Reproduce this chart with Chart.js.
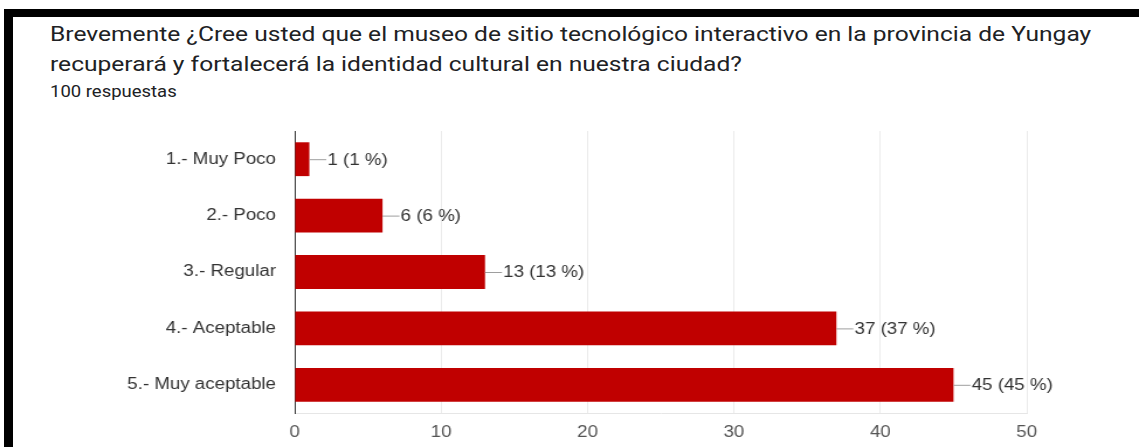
<!DOCTYPE html>
<html>
<head>
<meta charset="utf-8">
<script src="https://cdn.jsdelivr.net/npm/chart.js@4"></script>
<style>
  html, body { margin: 0; padding: 0; background: #fff; }
  body { width: 1139px; height: 447px; position: relative; overflow: hidden; }
  #topbar { position: absolute; left: 4px; top: 9px; width: 1135px; height: 8px; background: #000; }
  #leftbar { position: absolute; left: 4px; top: 9px; width: 9px; height: 438px; background: #000; }
  .txt { position: absolute; left: 50px; font-family: Roboto, Arial, sans-serif; color: #202124; white-space: nowrap; transform-origin: 0 0; }
  #title { top: 19px; font-size: 21px; line-height: 30px; transform: scaleX(1.17); }
  #sub { top: 82px; font-size: 16.5px; line-height: 20px; transform: scaleX(1.12); }
  #wrap { position: absolute; left: 0; top: 0; width: 974px; height: 447px; transform: scaleX(1.1694); transform-origin: 0 0; }
</style>
</head>
<body>
<div id="topbar"></div>
<div id="leftbar"></div>
<div id="title" class="txt">Brevemente ¿Cree usted que el museo de sitio tecnológico interactivo en la provincia de Yungay<br>recuperará y fortalecerá la identidad cultural en nuestra ciudad?</div>
<div id="sub" class="txt">100 respuestas</div>
<div id="wrap"><canvas id="chart" width="974" height="447"></canvas></div>
<script>
// data
const categories = ['1.- Muy Poco', '2.- Poco', '3.- Regular', '4.- Aceptable', '5.- Muy aceptable'];
const counts = [1, 6, 13, 37, 45];
const percents = [1, 6, 13, 37, 45];
const xTicks = [0, 10, 20, 30, 40, 50];

// the reference is stretched sideways, so the canvas is drawn narrow and widened by the wrapper
const FONT = '"Liberation Sans", Arial, sans-serif';

// leader line + "n (p %)" label at bar end
const barLabels = {
  id: 'barLabels',
  afterDatasetsDraw(chart) {
    const ctx = chart.ctx;
    const meta = chart.getDatasetMeta(0);
    ctx.save();
    ctx.font = '16px ' + FONT;
    ctx.textBaseline = 'middle';
    meta.data.forEach((bar, i) => {
      const x = bar.x, y = bar.y;
      ctx.strokeStyle = '#9e9e9e';
      ctx.lineWidth = 1;
      ctx.beginPath();
      ctx.moveTo(x, y + 0.5);
      ctx.lineTo(x + 14.5, y + 0.5);
      ctx.stroke();
      ctx.fillStyle = '#333';
      ctx.fillText(`${counts[i]} (${percents[i]} %)`, x + 15.5, y + 1);
    });
    ctx.restore();
  }
};

new Chart(document.getElementById('chart').getContext('2d'), {
  type: 'bar',
  data: {
    labels: categories,
    datasets: [{
      data: counts,
      backgroundColor: '#c00000',
      borderWidth: 0,
      categoryPercentage: 0.6,
      barPercentage: 1.0
    }]
  },
  options: {
    indexAxis: 'y',
    responsive: false,
    animation: false,
    layout: { padding: { top: 131, right: 96, left: 0, bottom: 0 } },
    plugins: { legend: { display: false }, tooltip: { enabled: false } },
    scales: {
      x: {
        min: 0, max: 50,
        afterBuildTicks: s => { s.ticks = xTicks.map(v => ({ value: v })); },
        afterFit: s => { s.height = 34; },
        grid: { color: '#ebebeb', drawTicks: false },
        border: { color: '#e6e6e6' },
        ticks: { padding: 10, color: '#555', font: { family: FONT, size: 16 } }
      },
      y: {
        afterFit: s => { s.width = 252; },
        grid: { display: false, drawTicks: false },
        border: { color: '#333', width: 1 },
        ticks: { padding: 16, color: '#333', font: { family: FONT, size: 16 } }
      }
    }
  },
  plugins: [barLabels]
});
</script>
</body>
</html>
